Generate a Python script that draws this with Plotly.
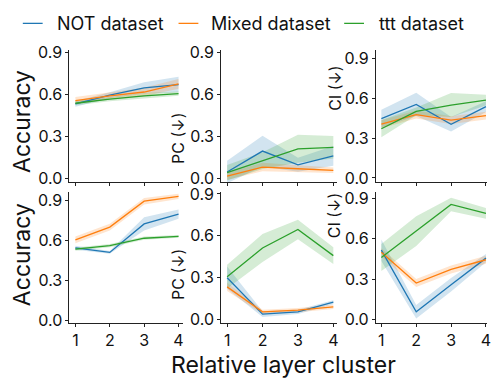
import plotly.graph_objects as go

W, H = 491, 383
FONT = "Inter"

clusters = [1, 2, 3, 4]
series_names = ["NOT dataset", "Mixed dataset", "ttt dataset"]
colors = ["#1f77b4", "#ff7f0e", "#2ca02c"]
fills = ["rgba(31,119,180,0.2)", "rgba(255,127,14,0.2)", "rgba(44,160,44,0.2)"]

# Top row (dataset 1)
acc_top_not = [0.53, 0.593, 0.645, 0.668]
acc_top_mixed = [0.554, 0.588, 0.615, 0.673]
acc_top_ttt = [0.535, 0.565, 0.588, 0.604]
acc_top_not_err = [0.02, 0.02, 0.04, 0.055]
acc_top_mixed_err = [0.025, 0.025, 0.03, 0.035]
acc_top_ttt_err = [0.015, 0.015, 0.02, 0.015]

pc_top_not = [0.045, 0.194, 0.096, 0.16]
pc_top_mixed = [0.015, 0.08, 0.068, 0.057]
pc_top_ttt = [0.04, 0.126, 0.21, 0.221]
pc_top_not_err = [0.08, 0.11, 0.05, 0.07]
pc_top_mixed_err = [0.025, 0.03, 0.025, 0.02]
pc_top_ttt_err = [0.055, 0.06, 0.1, 0.08]

ci_top_not = [0.449, 0.556, 0.406, 0.539]
ci_top_mixed = [0.406, 0.479, 0.437, 0.471]
ci_top_ttt = [0.372, 0.503, 0.551, 0.588]
ci_top_not_err = [0.067, 0.088, 0.055, 0.04]
ci_top_mixed_err = [0.03, 0.03, 0.03, 0.03]
ci_top_ttt_err = [0.065, 0.03, 0.09, 0.04]

# Bottom row (dataset 2)
acc_bot_not = [0.543, 0.509, 0.722, 0.796]
acc_bot_mixed = [0.603, 0.698, 0.892, 0.928]
acc_bot_ttt = [0.533, 0.56, 0.615, 0.629]
acc_bot_not_err = [0.015, 0.01, 0.05, 0.035]
acc_bot_mixed_err = [0.025, 0.025, 0.025, 0.02]
acc_bot_ttt_err = [0.012, 0.012, 0.012, 0.01]

pc_bot_not = [0.30, 0.039, 0.055, 0.124]
pc_bot_mixed = [0.234, 0.055, 0.067, 0.091]
pc_bot_ttt = [0.307, 0.513, 0.646, 0.458]
pc_bot_not_err = [0.08, 0.02, 0.015, 0.015]
pc_bot_mixed_err = [0.03, 0.015, 0.015, 0.015]
pc_bot_ttt_err = [0.085, 0.1, 0.07, 0.06]

ci_bot_not = [0.515, 0.057, 0.259, 0.456]
ci_bot_mixed = [0.499, 0.271, 0.372, 0.444]
ci_bot_ttt = [0.461, 0.657, 0.855, 0.788]
ci_bot_not_err = [0.08, 0.05, 0.05, 0.03]
ci_bot_mixed_err = [0.03, 0.03, 0.03, 0.03]
ci_bot_ttt_err = [0.1, 0.11, 0.05, 0.04]

y_ticks = [0.0, 0.3, 0.6, 0.9]

panels = [
    ([acc_top_not, acc_top_mixed, acc_top_ttt], [acc_top_not_err, acc_top_mixed_err, acc_top_ttt_err]),
    ([pc_top_not, pc_top_mixed, pc_top_ttt], [pc_top_not_err, pc_top_mixed_err, pc_top_ttt_err]),
    ([ci_top_not, ci_top_mixed, ci_top_ttt], [ci_top_not_err, ci_top_mixed_err, ci_top_ttt_err]),
    ([acc_bot_not, acc_bot_mixed, acc_bot_ttt], [acc_bot_not_err, acc_bot_mixed_err, acc_bot_ttt_err]),
    ([pc_bot_not, pc_bot_mixed, pc_bot_ttt], [pc_bot_not_err, pc_bot_mixed_err, pc_bot_ttt_err]),
    ([ci_bot_not, ci_bot_mixed, ci_bot_ttt], [ci_bot_not_err, ci_bot_mixed_err, ci_bot_ttt_err]),
]

def px(x):
    return x / W

def py(y):
    return 1 - y / H

x_domains = [[px(70), px(185)], [px(223), px(340)], [px(379), 1.0]]
y_domains = [[py(180.5), py(43)], [py(328), py(191)]]
x_ranges = [[0.827, 4.144], [0.832, 4.11], [0.844, 4.03]]
y_ranges = [[-0.026, 0.913], [-0.026, 0.913], [-0.03, 0.965],
             [-0.022, 0.961], [-0.027, 0.914], [-0.028, 0.947]]

fig = go.Figure()

for i, (means, errs) in enumerate(panels):
    ax = "" if i == 0 else str(i + 1)
    for s in range(3):
        upper = [m + e for m, e in zip(means[s], errs[s])]
        lower = [m - e for m, e in zip(means[s], errs[s])]
        fig.add_trace(go.Scatter(
            x=clusters + clusters[::-1], y=upper + lower[::-1],
            fill="toself", fillcolor=fills[s], line=dict(width=0),
            mode="lines", hoverinfo="skip", showlegend=False,
            xaxis="x" + ax, yaxis="y" + ax))
    for s in range(3):
        fig.add_trace(go.Scatter(
            x=clusters, y=means[s], mode="lines",
            line=dict(color=colors[s], width=1.3),
            name=series_names[s], showlegend=False,
            xaxis="x" + ax, yaxis="y" + ax))

layout = {}
for i in range(6):
    row, col = divmod(i, 3)
    key = "" if i == 0 else str(i + 1)
    layout["xaxis" + key] = dict(
        domain=x_domains[col], range=x_ranges[col], anchor="y" + key,
        tickvals=clusters, ticktext=[str(c) for c in clusters],
        showticklabels=(row == 1), ticks="outside", ticklen=3, tickwidth=1,
        tickcolor="#222", showline=True, linecolor="#222", linewidth=1,
        showgrid=False, zeroline=False, ticklabeloverflow="allow",
        tickfont=dict(family=FONT, size=16, color="#111"))
    layout["yaxis" + key] = dict(
        domain=y_domains[row], range=y_ranges[i], anchor="x" + key,
        tickvals=y_ticks, ticktext=["%.1f" % v for v in y_ticks],
        ticks="outside", ticklen=3, tickwidth=1, tickcolor="#222",
        showline=True, linecolor="#222", linewidth=1,
        showgrid=False, zeroline=False,
        tickfont=dict(family=FONT, size=16, color="#111"))

annotations = []
def add_text(text, x, y, size, angle=0, xanchor="center"):
    annotations.append(dict(text=text, x=px(x), y=py(y), xref="paper", yref="paper",
                            showarrow=False, textangle=angle, xanchor=xanchor,
                            yanchor="middle",
                            font=dict(family=FONT, size=size, color="#111")))

add_text("Accuracy", 22, 117, 23, -90)
add_text("Accuracy", 22, 256, 23, -90)
add_text("PC (↓)", 180, 135, 16, -90)
add_text("PC (↓)", 180, 277, 16, -90)
add_text("CI (↓)", 337, 82, 16, -90)
add_text("CI (↓)", 337, 215, 16, -90)
add_text("Relative layer cluster", 286, 371, 23)

# legend
legend_line_x = [(23, 43), (180, 200), (347, 367)]
legend_text_x = [55, 211, 380]
shapes = []
for s in range(3):
    x0, x1 = legend_line_x[s]
    shapes.append(dict(type="line", xref="paper", yref="paper",
                       x0=px(x0), x1=px(x1), y0=py(15), y1=py(15),
                       line=dict(color=colors[s], width=1.3)))
    add_text(series_names[s], legend_text_x[s], 15, 18, 0, "left")

fig.update_layout(
    width=W, height=H, margin=dict(l=0, r=0, t=0, b=0),
    paper_bgcolor="white", plot_bgcolor="white",
    annotations=annotations, shapes=shapes, showlegend=False,
    font=dict(family=FONT, color="#111"),
    **layout)

fig.write_html("out.html")
